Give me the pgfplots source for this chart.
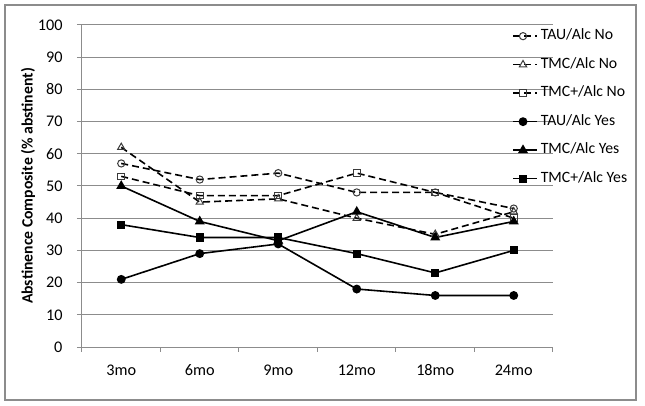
\documentclass[border=0pt]{standalone}
\usepackage{pgfplots}
\pgfplotsset{compat=1.18}
\usepackage{fontspec}
\setmainfont{Carlito}
\definecolor{gridgray}{HTML}{8C8C8C}
\definecolor{markgray}{HTML}{3A3A3A}
\begin{document}
\begin{tikzpicture}
\useasboundingbox (-82bp,-59bp) rectangle (563bp,347bp);
\draw[gridgray, line width=1.8bp] (-77bp,-53bp) rectangle (554bp,342bp);
\begin{axis}[
  at={(0,0)}, anchor=south west,
  scale only axis, width=471bp, height=322bp,
  xmin=-0.5, xmax=5.5, ymin=0, ymax=100,
  axis x line*=bottom, axis y line*=left,
  axis line style={gridgray, line width=1bp, -},
  xtick={0,1,2,3,4,5},
  xticklabels={3mo,6mo,9mo,12mo,18mo,24mo},
  minor xtick={-0.5,0.5,1.5,2.5,3.5,4.5,5.5},
  major x tick style={draw=none},
  minor tick length=5bp,
  major tick length=5bp,
  tick align=outside,
  tick style={gridgray, line width=1bp},
  ytick={0,10,...,100},
  ymajorgrids, grid style={gridgray, line width=1bp},
  /pgf/number format/assume math mode=true,
  ticklabel style={font=\fontsize{16.3}{19}\selectfont, text=black},
  xticklabel style={yshift=-9bp},
  yticklabel style={xshift=-11bp},
  ylabel={\bfseries Abstinence Composite (\% abstinent)},
  every axis y label/.style={at={([xshift=-54bp]axis description cs:0,0.5)}, rotate=90, anchor=center, font=\fontsize{15.8}{18}\selectfont},
  clip=false,
  legend style={at={(rel axis cs:0.913,0.99)}, anchor=north west, draw=none, fill=none,
     font=\fontsize{15.8}{18}\selectfont, row sep=13bp, inner sep=0pt,
     nodes={inner sep=1bp, text height=10.5bp, text depth=3bp},
     /tikz/every odd column/.append style={column sep=2bp}},
  legend cell align=left,
  legend image code/.code={
    \draw[#1] (0bp,0bp) -- (24bp,0bp);
    \draw[#1, solid] plot[only marks] coordinates {(10bp,0bp)};
  },
  every axis plot/.append style={line width=1.6bp, black},
  opennode/.style={dash pattern=on 7bp off 4bp, mark options={solid, draw=markgray, fill=white, line width=1bp}},
  filled/.style={solid, mark options={solid, fill=black, draw=black}},
]
\addplot[opennode, mark=o, mark size=3.6bp] coordinates {(0,57) (1,52) (2,54) (3,48) (4,48) (5,43)};
\addlegendentry{TAU/Alc No}
\addplot[opennode, mark=triangle, mark size=4.2bp] coordinates {(0,62) (1,45) (2,46) (3,40) (4,35) (5,42)};
\addlegendentry{TMC/Alc No}
\addplot[opennode, mark=square, mark size=3.3bp] coordinates {(0,53) (1,47) (2,47) (3,54) (4,48) (5,40)};
\addlegendentry{TMC+/Alc No}
\addplot[filled, mark=*, mark size=3.6bp] coordinates {(0,21) (1,29) (2,32) (3,18) (4,16) (5,16)};
\addlegendentry{TAU/Alc Yes}
\addplot[filled, mark=triangle*, mark size=4.2bp] coordinates {(0,50) (1,39) (2,33) (3,42) (4,34) (5,39)};
\addlegendentry{TMC/Alc Yes}
\addplot[filled, mark=square*, mark size=3.3bp] coordinates {(0,38) (1,34) (2,34) (3,29) (4,23) (5,30)};
\addlegendentry{TMC+/Alc Yes}
\end{axis}
\end{tikzpicture}
\end{document}
